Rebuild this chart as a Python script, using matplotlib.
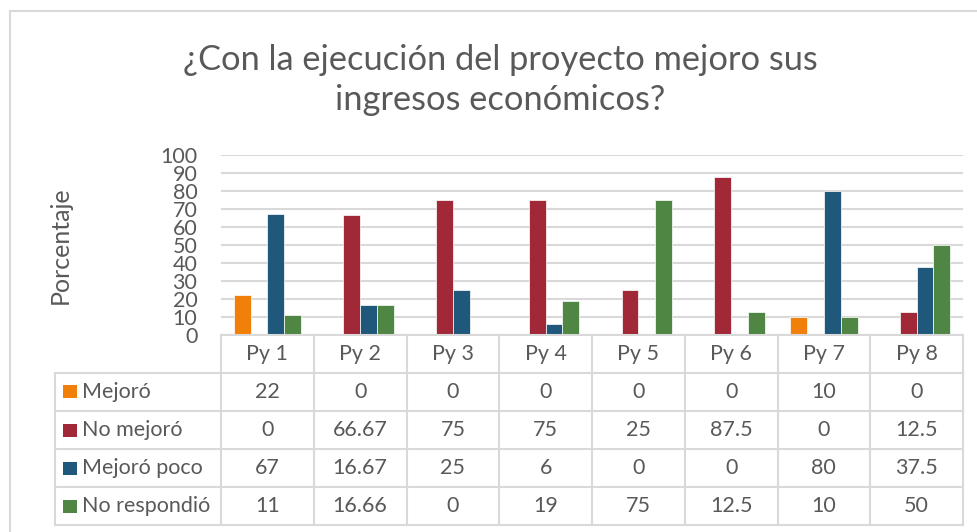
#!/usr/bin/env python3
"""Bar chart with data table: ¿Con la ejecución del proyecto mejoro sus ingresos económicos?"""

import numpy as np
import matplotlib
matplotlib.use("Agg")
import matplotlib.pyplot as plt
from matplotlib.patches import Rectangle
from matplotlib.lines import Line2D

# --- data ---------------------------------------------------------------------------------------
CATEGORIES = ["Py 1", "Py 2", "Py 3", "Py 4", "Py 5", "Py 6", "Py 7", "Py 8"]
SERIES = ["Mejoró", "No mejoró", "Mejoró poco", "No respondió"]
MEJORO = [22, 0, 0, 0, 0, 0, 10, 0]
NO_MEJORO = [0, 66.67, 75, 75, 25, 87.5, 0, 12.5]
MEJORO_POCO = [67, 16.67, 25, 6, 0, 0, 80, 37.5]
NO_RESPONDIO = [11, 16.66, 0, 19, 75, 12.5, 10, 50]
TITLE = "¿Con la ejecución del proyecto mejoro sus\ningresos económicos?"
YLABEL = "Porcentaje"

# --- style --------------------------------------------------------------------------------------
COLOURS = ["#F08009", "#A02837", "#1F587B", "#4F8643"]
TEXT = "#595959"
GRID = "#D9D9D9"
W, H = 977, 532
FONT = "Lato"
FS = 15.5          # table / tick font size
plt.rcParams["font.family"] = [FONT, "DejaVu Sans"]

# pixel layout (top-left origin)
PX_L, PX_R = 221, 963          # plot area / table columns
PX_TOP, PX_ZERO = 154.7, 335   # y of 100 and 0
ROW_Y = [335, 372.7, 411, 449, 487.3, 525]
LEG_L = 55


def fx(px):
    return px / W


def fy(py):
    return 1 - py / H


def main():
    fig = plt.figure(figsize=(W / 100, H / 100), dpi=100)
    fig.patch.set_facecolor("white")

    # outer chart border
    fig.add_artist(Rectangle((fx(9.5), fy(540)), fx(980), fy(10.5) - fy(540),
                             transform=fig.transFigure, fill=False,
                             edgecolor=GRID, linewidth=1.5, clip_on=False))

    ax = fig.add_axes([fx(PX_L), fy(PX_ZERO), fx(PX_R) - fx(PX_L), fy(PX_TOP) - fy(PX_ZERO)])
    values = [MEJORO, NO_MEJORO, MEJORO_POCO, NO_RESPONDIO]
    x = np.arange(len(CATEGORIES))
    bw = 1 / 5.5
    for i, (vals, col) in enumerate(zip(values, COLOURS)):
        ax.bar(x + (i - 1.5) * bw, vals, width=bw, color=col,
               edgecolor="white", linewidth=0.5, zorder=3)
    ax.set_xlim(-0.5, len(CATEGORIES) - 0.5)
    ax.set_ylim(0, 100)
    ax.set_yticks(np.arange(0, 101, 10))
    ax.tick_params(axis="y", length=0, labelsize=FS, labelcolor=TEXT, pad=17)
    ax.set_xticks([])
    ax.grid(axis="y", color=GRID, linewidth=1.5, zorder=0)
    for s in ax.spines.values():
        s.set_visible(False)
    ax.set_facecolor("none")

    fig.text(fx(60), fy(245), YLABEL, rotation=90, ha="center", va="center",
             fontsize=18, color=TEXT)
    fig.text(fx(500), fy(80), TITLE, ha="center", va="center", fontsize=24.75,
             color=TEXT, linespacing=1.3)

    # --- data table ---
    ncol = len(CATEGORIES)
    cw = (PX_R - PX_L) / ncol
    lw = 1.5
    # horizontal lines
    fig.add_artist(Line2D([fx(PX_L), fx(PX_R)], [fy(ROW_Y[0])] * 2, color=GRID, lw=lw))
    for yy in ROW_Y[1:]:
        fig.add_artist(Line2D([fx(LEG_L), fx(PX_R)], [fy(yy)] * 2, color=GRID, lw=lw))
    # vertical lines
    for k in range(ncol + 1):
        xx = PX_L + k * cw
        fig.add_artist(Line2D([fx(xx)] * 2, [fy(ROW_Y[0]), fy(ROW_Y[-1])], color=GRID, lw=lw))
    fig.add_artist(Line2D([fx(LEG_L)] * 2, [fy(ROW_Y[1]), fy(ROW_Y[-1])], color=GRID, lw=lw))

    hy = (ROW_Y[0] + ROW_Y[1]) / 2
    for k, cat in enumerate(CATEGORIES):
        fig.text(fx(PX_L + (k + 0.5) * cw), fy(hy), cat, ha="center", va="center",
                 fontsize=FS, color=TEXT)
    for r, (name, vals, col) in enumerate(zip(SERIES, values, COLOURS)):
        cy = (ROW_Y[r + 1] + ROW_Y[r + 2]) / 2
        fig.add_artist(Rectangle((fx(63), fy(cy + 6.5)), fx(13.5), fy(cy - 6.5) - fy(cy + 6.5),
                                 transform=fig.transFigure, facecolor=col, edgecolor="none"))
        fig.text(fx(82), fy(cy), name, ha="left", va="center", fontsize=FS, color=TEXT)
        for k, v in enumerate(vals):
            fig.text(fx(PX_L + (k + 0.5) * cw), fy(cy), f"{v:g}", ha="center", va="center",
                     fontsize=FS, color=TEXT)

    fig.savefig("out.png", dpi=100, facecolor="white")
    plt.close(fig)


if __name__ == "__main__":
    main()
